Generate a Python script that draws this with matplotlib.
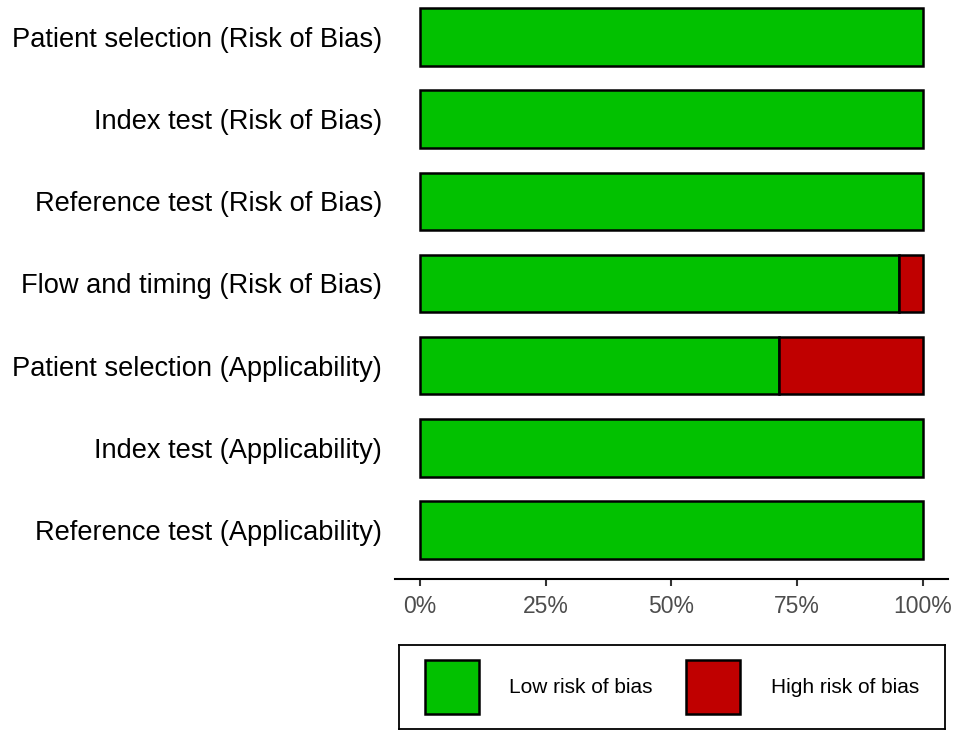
import numpy as np
import matplotlib
matplotlib.use("Agg")
import matplotlib.pyplot as plt
from matplotlib.patches import Patch

plt.rcParams['font.family'] = ['Liberation Sans', 'DejaVu Sans']

# domains, top to bottom
domains = [
    "Patient selection (Risk of Bias)",
    "Index test (Risk of Bias)",
    "Reference test (Risk of Bias)",
    "Flow and timing (Risk of Bias)",
    "Patient selection (Applicability)",
    "Index test (Applicability)",
    "Reference test (Applicability)",
]
low_risk = [100, 100, 100, 95.24, 71.43, 100, 100]
high_risk = [0, 0, 0, 4.76, 28.57, 0, 0]
x_ticks = [0, 25, 50, 75, 100]
x_tick_labels = ["0%", "25%", "50%", "75%", "100%"]

GREEN = "#02C100"
RED = "#C00000"

fig = plt.figure(figsize=(9.6, 7.31), dpi=100)
W, H = 960, 731

# main axes: x from 394.85 to 948.2 px, y from 0 to 579.3 px (from top)
ax = fig.add_axes([394.85 / W, (H - 579.3) / H, 553.3 / W, 579.3 / H])

y = np.arange(len(domains))[::-1]
low = np.array(low_risk)
high = np.array(high_risk)
ax.barh(y, low, height=0.7, color=GREEN, edgecolor="black", linewidth=1.8)
mask = high > 0
ax.barh(y[mask], high[mask], left=low[mask], height=0.7, color=RED,
        edgecolor="black", linewidth=1.8)

ax.set_xlim(-5, 105)
ax.set_ylim(-0.6, 6.45)
ax.set_yticks(y)
ax.set_yticklabels(domains, fontsize=19.6, color="black")
ax.tick_params(axis="y", length=0, pad=9)
ax.set_xticks(x_ticks)
ax.set_xticklabels(x_tick_labels, fontsize=16.5, color="#4D4D4D")
ax.tick_params(axis="x", length=5, width=1.5, color="#333333", pad=6)

for side in ["top", "right", "left"]:
    ax.spines[side].set_visible(False)
ax.spines["bottom"].set_linewidth(1.5)
ax.patch.set_visible(False)

# legend box
lax = fig.add_axes([399 / W, (H - 729) / H, 546 / W, 84 / H])
lax.set_xticks([])
lax.set_yticks([])
for s in lax.spines.values():
    s.set_linewidth(1.3)
handles = [Patch(facecolor=GREEN, edgecolor="black", linewidth=1.8, label="Low risk of bias"),
           Patch(facecolor=RED, edgecolor="black", linewidth=1.8, label="High risk of bias")]
lax.legend(handles=handles, loc="center", ncol=2, frameon=False, fontsize=15,
           handlelength=2.6, handleheight=3.62, handletextpad=1.45,
           columnspacing=1.6, borderaxespad=0)

fig.savefig("out.png", dpi=100)
